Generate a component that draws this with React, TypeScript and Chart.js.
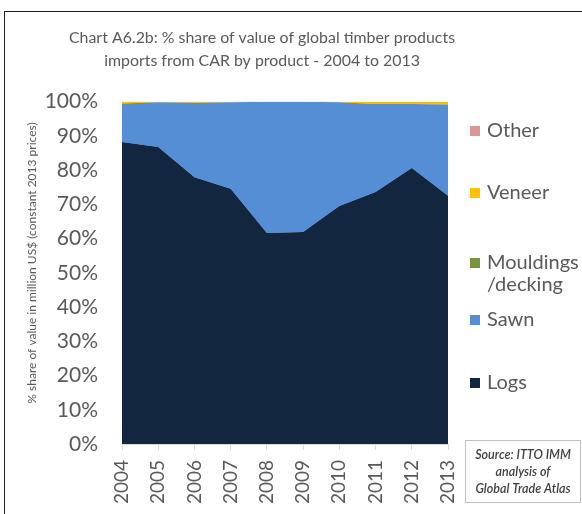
import React, { useEffect, useRef } from "react";
import { Chart, registerables } from "chart.js";

Chart.register(...registerables);

const years = ["2004", "2005", "2006", "2007", "2008", "2009", "2010", "2011", "2012", "2013"];
const logs = [88.2, 86.7, 77.9, 74.5, 61.6, 61.9, 69.5, 73.6, 80.6, 72.5];
const sawn = [11.2, 13.1, 21.7, 25.3, 38.3, 38.0, 30.3, 25.7, 18.7, 26.6];
const mouldings = [0, 0, 0, 0, 0, 0, 0, 0, 0, 0];
const veneer = [0.5, 0.2, 0.3, 0.2, 0.1, 0.1, 0.2, 0.6, 0.6, 0.8];
const other = [0.1, 0, 0.1, 0, 0, 0, 0, 0.1, 0.1, 0.1];

const titleLines = [
  "Chart A6.2b: % share of value of global timber products",
  "imports from CAR by product - 2004 to 2013",
];
const yTitle = "% share of value in million US$ (constant 2013 prices)";
const sourceLines = ["Source: ITTO IMM", "analysis of", "Global Trade Atlas"];

const legendItems = [
  { label: ["Other"], color: "#D99694", y: 131 },
  { label: ["Veneer"], color: "#FFC000", y: 193 },
  { label: ["Mouldings", "/decking"], color: "#77933C", y: 263 },
  { label: ["Sawn"], color: "#558ED5", y: 320 },
  { label: ["Logs"], color: "#12263F", y: 383 },
];

const FONT = "Lato, 'Liberation Sans', sans-serif";
const TEXT = "#595959";

const decorPlugin = {
  id: "decor",
  afterDraw(chart: any) {
    const ctx = chart.ctx as CanvasRenderingContext2D;
    ctx.save();
    // outer border
    ctx.strokeStyle = "#222";
    ctx.lineWidth = 1;
    ctx.strokeRect(4.5, 11.5, 700, 700);
    // title
    ctx.fillStyle = TEXT;
    ctx.font = `15.9px ${FONT}`;
    ctx.textAlign = "center";
    ctx.textBaseline = "middle";
    ctx.fillText(titleLines[0], 262, 38);
    ctx.fillText(titleLines[1], 262, 61);
    // y title
    ctx.save();
    ctx.translate(32, 263);
    ctx.rotate(-Math.PI / 2);
    ctx.font = `12px ${FONT}`;
    ctx.fillText(yTitle, 0, 0);
    ctx.restore();
    // legend
    ctx.textAlign = "left";
    ctx.font = `20px ${FONT}`;
    legendItems.forEach((it) => {
      ctx.fillStyle = it.color;
      ctx.fillRect(470, it.y - 5, 10, 10);
      ctx.fillStyle = TEXT;
      it.label.forEach((l, i) => ctx.fillText(l, 487, it.y + i * 22));
    });
    // source box
    ctx.fillStyle = "#fff";
    ctx.fillRect(465, 440, 115, 62);
    ctx.strokeStyle = "#bfbfbf";
    ctx.strokeRect(465.5, 440.5, 115, 62);
    ctx.fillStyle = "#404040";
    ctx.textAlign = "center";
    ctx.font = `italic 600 12.5px ${FONT}`;
    sourceLines.forEach((l, i) => ctx.fillText(l, 523, 455 + i * 17));
    ctx.restore();
  },
};

export default function App() {
  const ref = useRef<HTMLCanvasElement | null>(null);
  useEffect(() => {
    document.body.style.margin = "0";
    if (!ref.current) return;
    const mk = (label: string, data: number[], color: string, fill: any) => ({
      label,
      data,
      backgroundColor: color,
      borderColor: color,
      borderWidth: 0,
      pointRadius: 0,
      fill,
      tension: 0,
    });
    const chart = new Chart(ref.current, {
      type: "line",
      data: {
        labels: years,
        datasets: [
          mk("Logs", logs, "#12263F", "origin"),
          mk("Sawn", sawn, "#558ED5", "-1"),
          mk("Mouldings/decking", mouldings, "#77933C", "-1"),
          mk("Veneer", veneer, "#FFC000", "-1"),
          mk("Other", other, "#D99694", "-1"),
        ],
      },
      options: {
        animation: false,
        responsive: false,
        maintainAspectRatio: false,
        layout: { padding: { left: 0, right: 134, top: 101.5, bottom: 0 } },
        plugins: { legend: { display: false }, tooltip: { enabled: false }, title: { display: false } },
        scales: {
          x: {
            offset: false,
            grid: { drawOnChartArea: false, drawTicks: true, tickLength: 6, color: "#d9d9d9" },
            border: { display: true, color: "#d9d9d9" },
            ticks: {
              maxRotation: 90,
              minRotation: 90,
              padding: 10,
              color: TEXT,
              font: { family: FONT, size: 19 },
            },
            afterFit: (s: any) => {
              s.height = 70;
            },
          },
          y: {
            stacked: true,
            min: 0,
            max: 100,
            grid: { display: false, drawTicks: false },
            border: { display: false },
            ticks: {
              stepSize: 10,
              padding: 24,
              color: TEXT,
              font: { family: FONT, size: 21 },
              callback: (v: any) => v + "%",
            },
            afterFit: (s: any) => {
              s.width = 122;
            },
          },
        },
      },
      plugins: [decorPlugin],
    });
    return () => chart.destroy();
  }, []);
  return (
    <div style={{ position: "relative", width: 582, height: 514, overflow: "hidden", background: "#fff" }}>
      <canvas ref={ref} width={582} height={514} style={{ display: "block" }} />
    </div>
  );
}
